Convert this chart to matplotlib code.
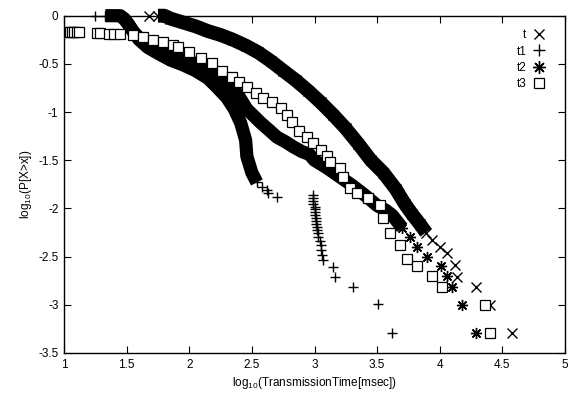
import matplotlib
matplotlib.use('Agg')
import matplotlib.pyplot as plt
from matplotlib.lines import Line2D

plt.rcParams['font.family'] = ['Liberation Sans', 'DejaVu Sans']
plt.rcParams['mathtext.fontset'] = 'custom'
plt.rcParams['mathtext.rm'] = 'Liberation Sans'

# ---- data ----
series_labels = ['t', 't1', 't2', 't3']

t_x = [1.68, 1.75, 1.80, 1.85, 1.95, 2.05, 2.15, 2.25, 2.35, 2.45, 2.55, 2.65,
       2.75, 2.85, 2.95, 3.05, 3.15, 3.25, 3.35, 3.45, 3.55, 3.65, 3.72,
       3.78, 3.84, 3.89, 3.94, 4.0, 4.06, 4.12, 4.14, 4.29, 4.40, 4.58]
t_y = [0.0, 0.0, 0.0, -0.03, -0.07, -0.11, -0.16, -0.2, -0.25, -0.31, -0.38, -0.47,
       -0.57, -0.67, -0.78, -0.9, -1.03, -1.17, -1.33, -1.5, -1.63, -1.8, -1.95,
       -2.06, -2.16, -2.25, -2.33, -2.4, -2.46, -2.59, -2.71, -2.81, -3.0, -3.29]

t1_x = [1.25, 1.33, 1.36, 1.39, 1.42, 1.45, 1.48, 1.52, 1.56, 1.6, 1.67, 1.75, 1.85, 1.95,
        2.05, 2.15, 2.22, 2.3, 2.36, 2.41, 2.45, 2.46, 2.5, 2.54, 2.58, 2.62,
        2.63, 2.70,
        2.99, 2.99, 2.99, 2.99, 3.0, 3.0, 3.0, 3.0, 3.01, 3.01, 3.01, 3.02,
        3.02, 3.03, 3.03, 3.04, 3.05, 3.05, 3.06, 3.07,
        3.15, 3.16, 3.31, 3.51, 3.62]
t1_y = [0.0, 0.0, 0.0, 0.0, 0.0, 0.0, -0.03, -0.1, -0.18, -0.25, -0.33, -0.39, -0.46, -0.51,
        -0.57, -0.65, -0.74, -0.85, -0.97, -1.11, -1.29, -1.46, -1.63, -1.73, -1.78, -1.81,
        -1.84, -1.88,
        -1.86, -1.89, -1.92, -1.95, -1.98, -2.01, -2.04, -2.07, -2.10, -2.13, -2.16, -2.19,
        -2.22, -2.26, -2.30, -2.34, -2.38, -2.43, -2.48, -2.53,
        -2.61, -2.71, -2.81, -2.99, -3.29]

t2_x = [1.42, 1.47, 1.51, 1.55, 1.6, 1.67, 1.75, 1.85, 1.95, 2.05, 2.15, 2.22,
        2.3, 2.38, 2.46, 2.57, 2.64, 2.70, 2.77, 2.83, 2.9, 2.96, 3.0, 3.1,
        3.2, 3.3, 3.4, 3.5, 3.57, 3.62, 3.70, 3.76, 3.82, 3.9, 4.01, 4.06, 4.10, 4.18, 4.29]
t2_y = [0.0, -0.02, -0.08, -0.16, -0.23, -0.3, -0.35, -0.4, -0.44, -0.5, -0.57, -0.64,
        -0.72, -0.8, -0.97, -1.11, -1.19, -1.26, -1.31, -1.36, -1.41, -1.44, -1.5, -1.58,
        -1.67, -1.76, -1.86, -1.97, -2.02, -2.07, -2.2, -2.3, -2.4, -2.5, -2.6, -2.7, -2.81, -3.0, -3.29]

t3_x = [1.04, 1.05, 1.06, 1.08, 1.10, 1.12, 1.26, 1.29, 1.36, 1.40, 1.45, 1.55,
        1.63, 1.71, 1.79, 1.87, 1.91, 2.0, 2.09, 2.18, 2.26, 2.34, 2.40, 2.46,
        2.53, 2.59, 2.66, 2.73, 2.78, 2.82, 2.88, 2.94, 2.99, 3.05, 3.10, 3.12,
        3.20, 3.23, 3.28, 3.34, 3.43, 3.52, 3.55, 3.60, 3.68, 3.74, 3.82, 3.94,
        4.02, 4.36, 4.40]
t3_y = [-0.17, -0.17, -0.17, -0.17, -0.17, -0.17, -0.18, -0.18, -0.19, -0.19, -0.19, -0.2,
        -0.22, -0.25, -0.27, -0.30, -0.32, -0.38, -0.44, -0.49, -0.57, -0.64, -0.69, -0.74,
        -0.80, -0.85, -0.90, -0.96, -1.03, -1.10, -1.2, -1.26, -1.32, -1.39, -1.46, -1.52,
        -1.58, -1.67, -1.79, -1.84, -1.89, -1.96, -2.10, -2.25, -2.38, -2.52, -2.60, -2.70,
        -2.81, -3.0, -3.29]

x_ticks = [1, 1.5, 2, 2.5, 3, 3.5, 4, 4.5, 5]
x_tick_labels = ['1', '1.5', '2', '2.5', '3', '3.5', '4', '4.5', '5']
y_ticks = [0, -0.5, -1, -1.5, -2, -2.5, -3, -3.5]
y_tick_labels = ['0', '-0.5', '-1', '-1.5', '-2', '-2.5', '-3', '-3.5']

# ---- styling ----
W, H = 568, 394
fig = plt.figure(figsize=(W / 100, H / 100), dpi=100)
ax = fig.add_axes([64 / W, 1 - 353 / H, (565 - 64) / W, (353 - 15.7) / H])
ax.set_xlim(1, 5)
ax.set_ylim(-3.5, 0)

STAR = (8, 2, 0)
band_kw = dict(color='black', solid_capstyle='butt', solid_joinstyle='round', clip_on=False)

# t (x markers): dense band 1.75 .. 3.89
ax.plot(t_x[1:26], t_y[1:26], lw=10, zorder=2, **band_kw)
ax.plot(t_x, t_y, ls='none', marker='x', ms=6.5, mew=1, color='black', zorder=2, clip_on=False)
# t1 (+ markers): dense band 1.33 .. 2.54
ax.plot(t1_x[1:24], t1_y[1:24], lw=9.5, zorder=3, **band_kw)
ax.plot(t1_x, t1_y, ls='none', marker='+', ms=7, mew=1, color='black', zorder=3, clip_on=False)
# t2 (star markers): dense band 1.47 .. 3.70
ax.plot(t2_x[1:31], t2_y[1:31], lw=9.5, zorder=4, **band_kw)
ax.plot(t2_x, t2_y, ls='none', marker=STAR, ms=8, mew=1, color='black', zorder=4, clip_on=False)
# t3 (open squares)
ax.plot(t3_x, t3_y, ls='none', marker='s', ms=7.5, mew=0.9, mfc='white', mec='black', zorder=5)

ax.set_xticks(x_ticks)
ax.set_xticklabels(x_tick_labels)
ax.set_yticks(y_ticks)
ax.set_yticklabels(y_tick_labels)
ax.tick_params(direction='in', length=5, width=0.8, top=True, right=True,
               labelsize=8.5, pad=4, colors='black')
for s in ax.spines.values():
    s.set_linewidth(1)
    s.set_zorder(1)

ax.set_xlabel(r'log$_{\mathregular{10}}$(TransmissionTime[msec])', fontsize=8.5, labelpad=3)
ax.set_ylabel(r'log$_{\mathregular{10}}$(P[X>x])', fontsize=8.5, labelpad=3)

handles = [
    Line2D([], [], ls='none', marker='x', ms=7, mew=1, color='black'),
    Line2D([], [], ls='none', marker='+', ms=8, mew=1, color='black'),
    Line2D([], [], ls='none', marker=STAR, ms=9, mew=1, color='black'),
    Line2D([], [], ls='none', marker='s', ms=7, mew=0.9, mfc='white', mec='black'),
]
ax.legend(handles, series_labels, loc='upper right', markerfirst=False, frameon=False,
          fontsize=8.5, handlelength=1.0, handletextpad=0.6, labelspacing=0.35,
          borderaxespad=0.0, bbox_to_anchor=((550 - 64) / (565 - 64), 1 - 9 / (353 - 15.7)))

fig.savefig('out.png', dpi=100)
